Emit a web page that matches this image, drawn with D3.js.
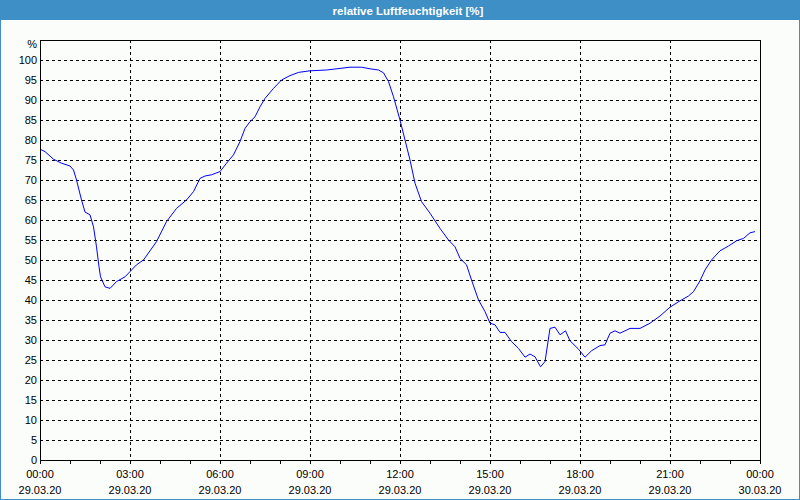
<!DOCTYPE html>
<html><head><meta charset="utf-8">
<script src="https://cdn.jsdelivr.net/npm/d3@7"></script>
<style>
html,body{margin:0;padding:0;background:#fbfdfb;}
svg{display:block;}
text{font-family:"Liberation Sans","DejaVu Sans",sans-serif;}
</style></head>
<body>
<svg id="chart" width="800" height="500"></svg>
<script>
const title = "relative Luftfeuchtigkeit [%]";
const unitLabel = "%";
const times = ["00:00","00:10","00:27","00:43","01:00","01:07","01:13","01:23","01:30","01:40","01:47","01:53","01:58","02:01","02:10","02:20","02:33","02:50","03:00","03:13","03:27","03:53","04:13","04:33","04:53","05:07","05:20","05:30","05:43","06:00","06:13","06:27","06:40","06:50","07:00","07:10","07:20","07:30","07:47","08:03","08:20","08:37","09:00","09:33","10:00","10:20","10:43","11:00","11:17","11:27","11:37","11:47","12:00","12:10","12:20","12:30","12:43","13:00","13:20","13:37","13:50","14:00","14:13","14:23","14:37","14:50","15:00","15:10","15:20","15:30","15:43","15:57","16:10","16:20","16:30","16:41","16:50","17:00","17:10","17:20","17:31","17:40","17:57","18:10","18:23","18:40","18:50","19:00","19:10","19:20","19:40","20:00","20:20","20:40","21:00","21:20","21:37","21:47","22:00","22:10","22:23","22:40","22:57","23:13","23:27","23:40","23:50"];
const values = [77.7,77.1,75.2,74.2,73.5,72.5,70,65,62,61.3,58.3,53.3,48.3,45.8,43.3,42.9,44.6,45.8,47.1,48.8,50,54.6,59.6,62.9,65,67.1,70.4,71,71.3,72.1,74.2,76.3,79.6,82.9,84.6,85.8,88.3,90.4,92.9,95,96.1,96.9,97.3,97.5,97.9,98.2,98.2,97.8,97.5,96.8,94.6,90.8,85,80,75,69.2,64.6,61.7,57.9,55,53.3,50.4,48.8,45,40,37.1,34.2,33.8,31.9,31.9,29.6,27.9,25.7,26.5,25.8,23.3,24.6,32.9,33.2,31.3,32.3,29.8,27.7,25.7,27.3,28.6,28.8,31.7,32.3,31.7,32.9,32.9,34.2,36,38.2,39.8,41,42.1,44.8,47.5,50,52.3,53.5,54.8,55.4,56.8,57.1];
const yTicks = [0,5,10,15,20,25,30,35,40,45,50,55,60,65,70,75,80,85,90,95,100];
const xStart = "2020-03-29T00:00";
const xEnd = "2020-03-30T00:00";
const day = "2020-03-29";

(function(){
const svg = d3.select("#chart");
const W = 800, H = 500;
const blue = "#3d8fc6";
const pL = 40, pR = 760, pT = 40, pB = 460;

const parse = d3.timeParse("%Y-%m-%dT%H:%M");
const data = times.map((t,i)=>({t: parse(day+"T"+t), v: values[i]}));

const x = d3.scaleTime().domain([parse(xStart), parse(xEnd)]).range([pL, pR]);
const y = d3.scaleLinear().domain([0,105]).range([pB, pT]);

svg.append("rect").attr("x",0).attr("y",0).attr("width",W).attr("height",H).attr("fill","#fbfdfb");
svg.append("rect").attr("x",0).attr("y",0).attr("width",W).attr("height",20).attr("fill",blue);
svg.append("text").attr("x",408).attr("y",14.5).attr("text-anchor","middle")
  .attr("fill","#ffffff").attr("font-size","11.5px").attr("font-weight","bold").text(title);
svg.append("rect").attr("x",0.5).attr("y",0.5).attr("width",W-1).attr("height",H-1)
  .attr("fill","none").attr("stroke",blue).attr("stroke-width",1);

const g = svg.append("g").attr("shape-rendering","crispEdges");
g.selectAll("line.h").data(yTicks.filter(d=>d>0)).join("line")
  .attr("x1",pL).attr("x2",pR)
  .attr("y1",d=>Math.round(y(d))+0.5).attr("y2",d=>Math.round(y(d))+0.5)
  .attr("stroke","#000").attr("stroke-dasharray","3,3");
const majors = x.ticks(d3.timeHour.every(3));
const g2 = svg.append("g").attr("shape-rendering","crispEdges");
g2.selectAll("line").data(majors.slice(1,-1)).join("line")
  .attr("x1",d=>Math.round(x(d))+0.5).attr("x2",d=>Math.round(x(d))+0.5)
  .attr("y1",pT).attr("y2",pB)
  .attr("stroke","#000").attr("stroke-dasharray","3,3");

svg.append("g").selectAll("text").data(yTicks).join("text")
  .attr("x",37).attr("y",d=>y(d)+4).attr("text-anchor","end")
  .attr("font-size","11px").attr("fill","#000").text(d=>d);
svg.append("text").attr("x",37).attr("y",48).attr("text-anchor","end")
  .attr("font-size","11px").attr("fill","#000").text(unitLabel);

const hours = x.ticks(d3.timeHour.every(1));
const g3 = svg.append("g").attr("shape-rendering","crispEdges");
g3.selectAll("line").data(hours).join("line")
  .attr("x1",d=>Math.round(x(d))+0.5).attr("x2",d=>Math.round(x(d))+0.5)
  .attr("y1",pB).attr("y2",pB+4).attr("stroke","#000");

const fmtT = d3.timeFormat("%H:%M"), fmtD = d3.timeFormat("%d.%m.%y");
const xl = svg.append("g").selectAll("g").data(majors).join("g");
xl.append("text").attr("x",d=>x(d)).attr("y",478).attr("text-anchor","middle")
  .attr("font-size","11px").attr("fill","#000").text(d=>fmtT(d));
xl.append("text").attr("x",d=>x(d)).attr("y",494).attr("text-anchor","middle")
  .attr("font-size","11px").attr("fill","#000").text(d=>fmtD(d));

svg.append("path").datum(data)
  .attr("d", d3.line().x(d=>x(d.t)).y(d=>y(d.v)))
  .attr("fill","none").attr("stroke","#0000ff").attr("stroke-width",1);

svg.append("rect").attr("x",pL+0.5).attr("y",pT+0.5).attr("width",pR-pL).attr("height",pB-pT)
  .attr("fill","none").attr("stroke","#000").attr("stroke-width",1).attr("shape-rendering","crispEdges");
})();
</script>
</body></html>
